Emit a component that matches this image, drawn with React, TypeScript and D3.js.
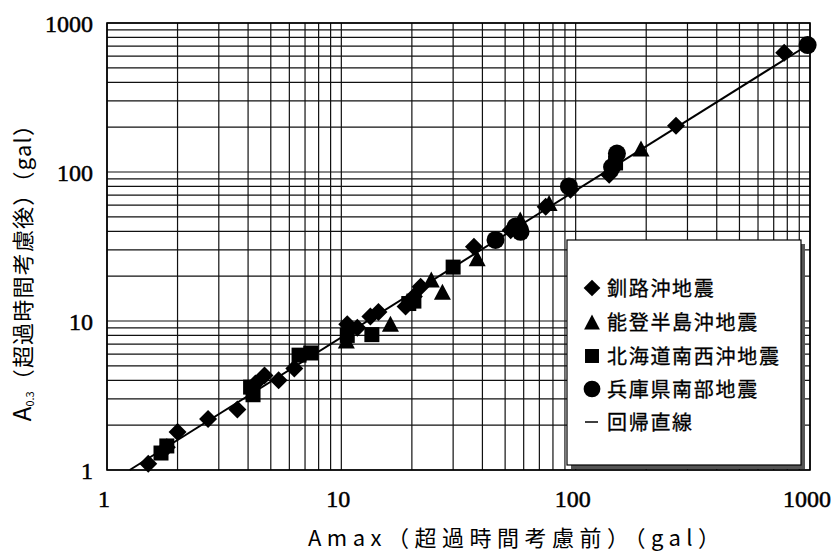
import React from 'react';
import * as d3 from 'd3';

// 釧路沖地震 ◆
const kushiroX = [1.5, 1.8, 2.0, 2.7, 3.6, 4.3, 4.7, 5.4, 6.3, 10.6, 11.7, 13.3, 14.4, 18.8, 20.4, 21.8, 36.8, 52.8, 74.5, 95, 139, 268, 776];
const kushiroY = [1.1, 1.42, 1.8, 2.2, 2.55, 3.8, 4.3, 4.0, 4.8, 9.5, 9.0, 10.7, 11.5, 12.5, 14.6, 17.0, 31.5, 40.7, 58.5, 76, 96, 204, 632];
// 能登半島沖地震 ▲
const notoX = [10.5, 16.2, 24.2, 27, 38, 58, 77, 190];
const notoY = [7.4, 9.6, 19.0, 15.7, 26.4, 48, 62, 144];
// 北海道南西沖地震 ■
const hokkaidoX = [1.7, 1.8, 4.2, 4.1, 6.6, 7.4, 10.6, 13.5, 19.4, 20.4, 30, 148];
const hokkaidoY = [1.3, 1.45, 3.2, 3.6, 5.9, 6.1, 8.0, 8.1, 13.1, 13.6, 23, 115];
// 兵庫県南部地震 ●
const hyogoX = [45.5, 55.4, 58.2, 93.6, 143, 150, 977];
const hyogoY = [35, 43, 39.7, 80, 108, 133, 711];
// 回帰直線 (end points)
const regX = [1.25, 980];
const regY = [1, 712];

const tickValues = [1, 10, 100, 1000];
const legendLabels = ['釧路沖地震', '能登半島沖地震', '北海道南西沖地震', '兵庫県南部地震', '回帰直線'];

const W = 832;
const H = 554;
const left = 107, right = 810, top = 23, bottom = 470;

const x = d3.scaleLog().domain([1, 1000]).range([left, right]);
const y = d3.scaleLog().domain([1, 1000]).range([bottom, top]);

const gridVals: number[] = [];
for (let k = 0; k < 3; k++) {
  for (let m = 1; m < 10; m++) gridVals.push(m * Math.pow(10, k));
}
gridVals.push(1000);

type Shape = 'diamond' | 'triangle' | 'square' | 'circle';

function Marker({ cx, cy, shape, s = 1 }: { cx: number; cy: number; shape: Shape; s?: number }) {
  if (shape === 'circle') return <circle cx={cx} cy={cy} r={9 * s} fill="#000" />;
  if (shape === 'square') {
    const h = 7.5 * s;
    return <rect x={cx - h} y={cy - h} width={2 * h} height={2 * h} fill="#000" />;
  }
  if (shape === 'diamond') {
    const h = 9 * s;
    return <path d={`M${cx},${cy - h}L${cx + h},${cy}L${cx},${cy + h}L${cx - h},${cy}Z`} fill="#000" />;
  }
  const w = 8.5 * s, hh = 8 * s;
  return <path d={`M${cx},${cy - hh}L${cx + w},${cy + hh}L${cx - w},${cy + hh}Z`} fill="#000" />;
}

const series: { xs: number[]; ys: number[]; shape: Shape }[] = [
  { xs: hyogoX, ys: hyogoY, shape: 'circle' },
  { xs: hokkaidoX, ys: hokkaidoY, shape: 'square' },
  { xs: notoX, ys: notoY, shape: 'triangle' },
  { xs: kushiroX, ys: kushiroY, shape: 'diamond' },
];

const legendShapes: Shape[] = ['diamond', 'triangle', 'square', 'circle'];

export default function App() {
  const line = d3.line<number>().x((d, i) => x(regX[i])).y((d) => y(d));
  const lx = 567, ly = 240, lw = 234, lh = 225;
  const rowY = [288, 322, 356, 389, 422];
  return (
    <svg width={W} height={H} style={{ position: 'absolute', left: 0, top: 0, background: '#fff' }}>
      <rect width={W} height={H} fill="#fff" />
      {/* grid */}
      <g stroke="#111" strokeWidth={1.2}>
        {gridVals.map((v) => (
          <line key={'v' + v} x1={x(v)} x2={x(v)} y1={top} y2={bottom} />
        ))}
        {gridVals.map((v) => (
          <line key={'h' + v} x1={left} x2={right} y1={y(v)} y2={y(v)} />
        ))}
      </g>
      <rect x={left} y={top} width={right - left} height={bottom - top} fill="none" stroke="#000" strokeWidth={1.6} />

      {/* tick labels */}
      <g fontFamily="'Liberation Serif', 'Times New Roman', serif" fontSize={24} fill="#000" stroke="#000" strokeWidth={0.5}>
        {tickValues.map((v) => (
          <text key={'yt' + v} x={93} y={y(v) + 8.5} textAnchor="end">{v}</text>
        ))}
        {tickValues.map((v) => (
          <text key={'xt' + v} x={x(v) - 3} y={507} textAnchor="middle">{v}</text>
        ))}
      </g>

      {/* regression line */}
      <path d={line(regY) || ''} fill="none" stroke="#000" strokeWidth={2} />

      {/* points */}
      {series.map((s) => s.xs.map((xv, i) => (
        <Marker key={s.shape + i} cx={x(xv)} cy={y(s.ys[i])} shape={s.shape} />
      )))}

      {/* legend */}
      <rect x={lx + 4} y={ly + 4} width={lw} height={lh} fill="#555" />
      <rect x={lx} y={ly} width={lw} height={lh} fill="#fff" stroke="#000" strokeWidth={1.2} />
      {legendShapes.map((sh, i) => (
        <Marker key={'lg' + sh} cx={592} cy={rowY[i]} shape={sh} s={0.93} />
      ))}
      <line x1={585} x2={598} y1={rowY[4]} y2={rowY[4]} stroke="#000" strokeWidth={1.5} />
      <g fontFamily="'Noto Sans CJK JP', sans-serif" fontSize={20} fill="#000" stroke="#000" strokeWidth={0.3} letterSpacing={1.7}>
        {legendLabels.map((t, i) => (
          <text key={t} x={607} y={rowY[i] + 7.5}>{t}</text>
        ))}
      </g>

      {/* axis titles */}
      <text x={514} y={546} textAnchor="middle" fontFamily="'Noto Sans CJK JP', sans-serif" fontSize={22}
        textLength={412} lengthAdjust="spacing">Amax（超過時間考慮前）（gal）</text>
      <g transform="translate(31,267) rotate(-90)">
        <text x={0} y={0} textAnchor="middle" fontFamily="'Noto Sans CJK JP', sans-serif" fontSize={22}>
          <tspan fontSize={24}>A</tspan>
          <tspan fontSize={11} dy={3}>0.3</tspan>
          <tspan dy={-3} letterSpacing={1.2}>（超過時間考慮後）（gal）</tspan>
        </text>
      </g>
    </svg>
  );
}
